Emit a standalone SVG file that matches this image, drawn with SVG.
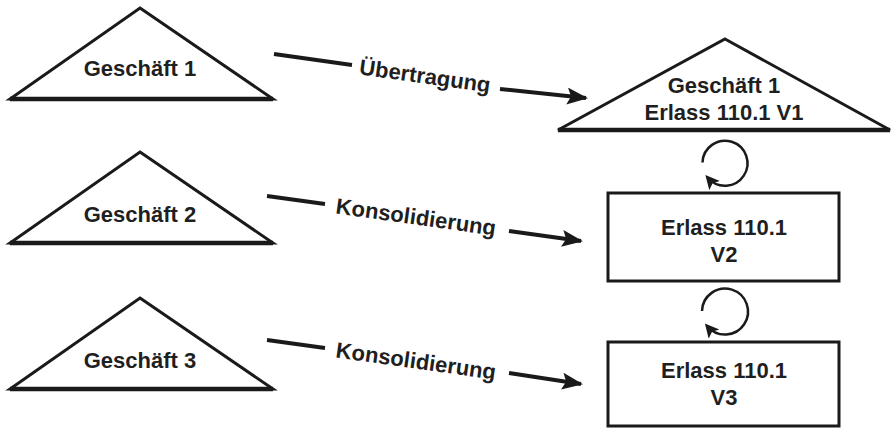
<svg xmlns="http://www.w3.org/2000/svg" width="892" height="430" viewBox="0 0 892 430">
<style>
.shape{fill:#fff;stroke:#1a1a1a;stroke-width:3;stroke-linejoin:miter}
.base{stroke:#1a1a1a;stroke-width:4.5}
.t{font-family:"Liberation Sans",Arial,sans-serif;font-weight:bold;font-size:22px;fill:#1f1f1f;text-anchor:middle}
.conn{fill:none;stroke:#1a1a1a;stroke-width:4}
.cyc{fill:none;stroke:#1a1a1a;stroke-width:2.5}
</style>
<defs>
<marker id="ah" markerUnits="userSpaceOnUse" markerWidth="22" markerHeight="18" refX="19" refY="8.5" orient="auto">
<path d="M0,0 L21,8.5 L0,17 L4,8.5 z" fill="#1a1a1a"/>
</marker>
<marker id="ahs" markerUnits="userSpaceOnUse" markerWidth="16" markerHeight="16" refX="10" refY="7" orient="auto">
<path d="M0,0 L14,7 L0,14 L3,7 z" fill="#1a1a1a"/>
</marker>
</defs>
<g id="g1">
<polygon class="shape" points="140,8 273,99 10,99"/>
<line class="base" x1="10" y1="99" x2="273" y2="99"/>
<text class="t" x="140" y="76">Geschäft 1</text>
</g>
<g id="g2">
<polygon class="shape" points="140,152 273,243 10,243"/>
<line class="base" x1="10" y1="243" x2="273" y2="243"/>
<text class="t" x="140" y="222">Geschäft 2</text>
</g>
<g id="g3">
<polygon class="shape" points="140,298 273,389 10,389"/>
<line class="base" x1="10" y1="389" x2="273" y2="389"/>
<text class="t" x="140" y="368">Geschäft 3</text>
</g>
<g id="r1">
<polygon class="shape" points="725,39 890,130 558,130"/>
<line class="base" x1="558" y1="130" x2="890" y2="130"/>
<text class="t" x="724" y="93">Geschäft 1</text>
<text class="t" x="724" y="120">Erlass 110.1 V1</text>
</g>
<g id="r2">
<rect class="shape" x="608" y="193" width="231" height="88"/>
<text class="t" x="724" y="235">Erlass 110.1</text>
<text class="t" x="724" y="262">V2</text>
</g>
<g id="r3">
<rect class="shape" x="608" y="342" width="231" height="84"/>
<text class="t" x="724" y="378">Erlass 110.1</text>
<text class="t" x="724" y="405">V3</text>
</g>
<g id="connectors">
<path class="conn" d="M274,54 L352,65"/>
<path class="conn" d="M500,89 L586,98" marker-end="url(#ah)"/>
<text class="t" transform="translate(425,76) rotate(8)" dominant-baseline="central">Übertragung</text>
<path class="conn" d="M267,196 L325,204"/>
<path class="conn" d="M509,231 L581,241" marker-end="url(#ah)"/>
<text class="t" transform="translate(416,217) rotate(8)" dominant-baseline="central">Konsolidierung</text>
<path class="conn" d="M267,340 L325,348"/>
<path class="conn" d="M509,373 L581,384" marker-end="url(#ah)"/>
<text class="t" transform="translate(416,361) rotate(8)" dominant-baseline="central">Konsolidierung</text>
<path class="cyc" d="M702.5,162.5 A22.5,22.5 0 1 1 708,178" marker-end="url(#ahs)"/>
<path class="cyc" d="M702,311 A23,23 0 1 1 707.5,326.5" marker-end="url(#ahs)"/>
</g>
</svg>
